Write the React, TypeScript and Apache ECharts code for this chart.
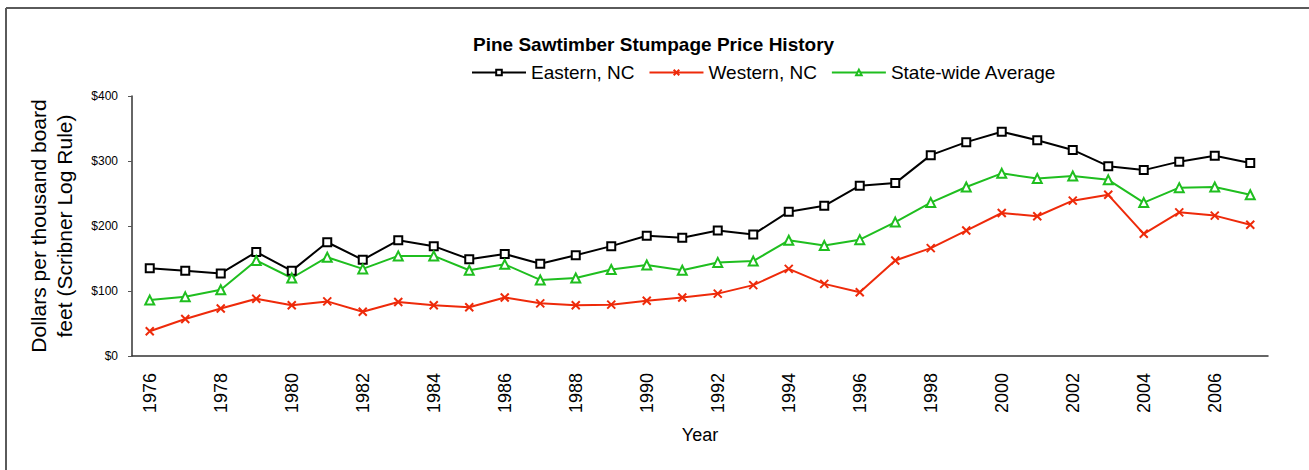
import React, { useEffect, useRef } from "react";
import * as echarts from "echarts";

const years = [
  "1976", "1977", "1978", "1979", "1980", "1981", "1982", "1983", "1984", "1985",
  "1986", "1987", "1988", "1989", "1990", "1991", "1992", "1993", "1994", "1995",
  "1996", "1997", "1998", "1999", "2000", "2001", "2002", "2003", "2004", "2005",
  "2006", "2007",
];
const eastern = [
  135, 131, 127, 160, 131, 175, 148, 178, 169, 149, 157, 142, 155, 169, 185, 182,
  193, 187, 222, 231, 262, 266, 309, 329, 345, 332, 317, 292, 286, 299, 308, 297,
];
const western = [
  38, 57, 73, 88, 78, 84, 68, 83, 78, 75, 90, 81, 78, 79, 85, 90,
  96, 109, 134, 111, 98, 147, 166, 193, 220, 215, 239, 248, 188, 221, 216, 202,
];
const statewide = [
  86, 91, 102, 147, 120, 152, 134, 154, 154, 132, 141, 117, 120, 133, 140, 132,
  144, 146, 178, 170, 179, 206, 236, 260, 281, 273, 277, 271, 236, 259, 260, 248,
];
const seriesNames = ["Eastern, NC", "Western, NC", "State-wide Average"];
const yTicks = [0, 100, 200, 300, 400];

const FONT = "'Liberation Sans', Arial, sans-serif";
const BLACK = "#000000";
const RED = "#ee2a0a";
const GREEN = "#1fbe1f";

export default function App() {
  const ref = useRef<HTMLDivElement>(null);
  useEffect(() => {
    if (!ref.current) return;
    const chart = echarts.init(ref.current, undefined, { renderer: "svg" });
    chart.setOption({
      animation: false,
      backgroundColor: "#ffffff",
      textStyle: { fontFamily: FONT, color: "#000" },
      title: {
        text: "Pine Sawtimber Stumpage Price History",
        left: 468,
        top: 30,
        textStyle: { fontFamily: FONT, fontSize: 19, fontWeight: "bold", color: "#000" },
      },
      legend: {
        left: 466,
        top: 58,
        itemWidth: 54,
        itemHeight: 7,
        itemGap: 14,
        textStyle: { fontFamily: FONT, fontSize: 19, color: "#000" },
        data: seriesNames,
      },
      graphic: [
        {
          type: "line",
          shape: { x1: 6, y1: 8, x2: 1309, y2: 8 },
          style: { stroke: "#5a5a5a", lineWidth: 2 },
        },
        {
          type: "line",
          shape: { x1: 6, y1: 8, x2: 6, y2: 470 },
          style: { stroke: "#5a5a5a", lineWidth: 2 },
        },
      ],
      grid: { left: 132, right: 41, top: 96, bottom: 114, containLabel: false },
      xAxis: {
        type: "category",
        data: years,
        boundaryGap: true,
        name: "Year",
        nameLocation: "middle",
        nameGap: 70,
        nameTextStyle: { fontFamily: FONT, fontSize: 18, color: "#000" },
        axisLine: { lineStyle: { color: "#333", width: 1.5 } },
        axisTick: { inside: true, length: 6, interval: 0, lineStyle: { color: "#555" } },
        axisLabel: {
          interval: 1,
          rotate: 90,
          margin: 17,
          fontSize: 18,
          fontFamily: FONT,
          color: "#000",
        },
      },
      yAxis: {
        type: "value",
        min: yTicks[0],
        max: yTicks[yTicks.length - 1],
        interval: 100,
        name: "Dollars per thousand board\nfeet (Scribner Log Rule)",
        nameLocation: "middle",
        nameRotate: 90,
        nameGap: 55,
        nameTextStyle: { fontFamily: FONT, fontSize: 21, color: "#000", lineHeight: 26 },
        axisLine: { show: true, lineStyle: { color: "#333", width: 1.5 } },
        axisTick: { show: true, length: 4, lineStyle: { color: "#555" } },
        splitLine: { show: false },
        axisLabel: {
          formatter: (v: number) => "$" + v,
          fontSize: 12,
          margin: 14,
          fontFamily: FONT,
          color: "#000",
        },
      },
      series: [
        {
          name: seriesNames[0],
          type: "line",
          data: eastern,
          symbol: "emptyRect",
          symbolSize: 8,
          lineStyle: { color: BLACK, width: 2 },
          itemStyle: { color: BLACK, borderColor: BLACK, borderWidth: 2 },
        },
        {
          name: seriesNames[1],
          type: "line",
          data: western,
          symbol: "path://M0,0L10,10M0,10L10,0",
          symbolSize: 8,
          lineStyle: { color: RED, width: 2 },
          itemStyle: { color: RED, borderColor: RED, borderWidth: 2 },
        },
        {
          name: seriesNames[2],
          type: "line",
          data: statewide,
          symbol: "emptyTriangle",
          symbolSize: 9,
          lineStyle: { color: GREEN, width: 2 },
          itemStyle: { color: GREEN, borderColor: GREEN, borderWidth: 2 },
        },
      ],
    });
    return () => chart.dispose();
  }, []);
  return (
    <div
      ref={ref}
      style={{ position: "absolute", left: 0, top: 0, width: 1309, height: 470 }}
    />
  );
}
